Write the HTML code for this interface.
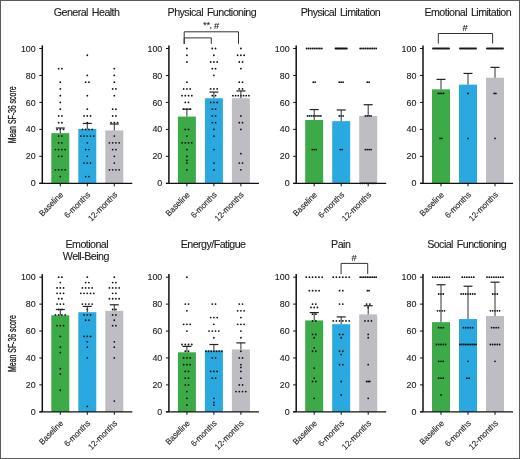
<!DOCTYPE html><html><head><meta charset="utf-8"><style>
html,body{margin:0;padding:0;background:#fff;}
body{width:520px;height:459px;overflow:hidden;}
svg{display:block;will-change:transform;}
text{font-family:"Liberation Sans", sans-serif;fill:#1e1e1e;stroke:#1e1e1e;stroke-width:0.12px;}
</style></head><body>
<svg width="520" height="459" viewBox="0 0 520 459">
<rect x="0" y="0" width="520" height="459" fill="#fff"/>
<text x="86.60" y="15.7" font-size="10.7" letter-spacing="-0.55" word-spacing="1.5" text-anchor="middle">General Health</text>
<rect x="51.30" y="133.15" width="18" height="50.15" fill="#3cab47"/>
<rect x="78.30" y="128.98" width="18" height="54.32" fill="#2aa9e0"/>
<rect x="105.30" y="130.46" width="18" height="52.84" fill="#bdbdc3"/>
<circle cx="58.67" cy="68.72" r="0.90" fill="#111"/>
<circle cx="61.92" cy="68.72" r="0.90" fill="#111"/>
<circle cx="60.30" cy="82.20" r="0.90" fill="#111"/>
<circle cx="60.30" cy="88.94" r="0.90" fill="#111"/>
<circle cx="60.30" cy="95.68" r="0.90" fill="#111"/>
<circle cx="60.30" cy="102.42" r="0.90" fill="#111"/>
<circle cx="60.30" cy="109.16" r="0.90" fill="#111"/>
<circle cx="58.67" cy="115.90" r="0.90" fill="#111"/>
<circle cx="61.92" cy="115.90" r="0.90" fill="#111"/>
<circle cx="58.67" cy="122.64" r="0.90" fill="#111"/>
<circle cx="61.92" cy="122.64" r="0.90" fill="#111"/>
<circle cx="57.05" cy="129.38" r="0.90" fill="#111"/>
<circle cx="60.30" cy="129.38" r="0.90" fill="#111"/>
<circle cx="63.55" cy="129.38" r="0.90" fill="#111"/>
<circle cx="58.67" cy="136.12" r="0.90" fill="#111"/>
<circle cx="61.92" cy="136.12" r="0.90" fill="#111"/>
<circle cx="58.67" cy="142.86" r="0.90" fill="#111"/>
<circle cx="61.92" cy="142.86" r="0.90" fill="#111"/>
<circle cx="55.42" cy="149.60" r="0.90" fill="#111"/>
<circle cx="58.67" cy="149.60" r="0.90" fill="#111"/>
<circle cx="61.92" cy="149.60" r="0.90" fill="#111"/>
<circle cx="65.17" cy="149.60" r="0.90" fill="#111"/>
<circle cx="58.67" cy="156.34" r="0.90" fill="#111"/>
<circle cx="61.92" cy="156.34" r="0.90" fill="#111"/>
<circle cx="55.42" cy="169.82" r="0.90" fill="#111"/>
<circle cx="58.67" cy="169.82" r="0.90" fill="#111"/>
<circle cx="61.92" cy="169.82" r="0.90" fill="#111"/>
<circle cx="65.17" cy="169.82" r="0.90" fill="#111"/>
<circle cx="60.30" cy="176.56" r="0.90" fill="#111"/>
<circle cx="87.30" cy="55.24" r="0.90" fill="#111"/>
<circle cx="87.30" cy="75.46" r="0.90" fill="#111"/>
<circle cx="85.67" cy="82.20" r="0.90" fill="#111"/>
<circle cx="88.92" cy="82.20" r="0.90" fill="#111"/>
<circle cx="87.30" cy="95.68" r="0.90" fill="#111"/>
<circle cx="87.30" cy="109.16" r="0.90" fill="#111"/>
<circle cx="84.05" cy="115.90" r="0.90" fill="#111"/>
<circle cx="87.30" cy="115.90" r="0.90" fill="#111"/>
<circle cx="90.55" cy="115.90" r="0.90" fill="#111"/>
<circle cx="87.30" cy="122.64" r="0.90" fill="#111"/>
<circle cx="82.42" cy="129.38" r="0.90" fill="#111"/>
<circle cx="85.67" cy="129.38" r="0.90" fill="#111"/>
<circle cx="88.92" cy="129.38" r="0.90" fill="#111"/>
<circle cx="92.17" cy="129.38" r="0.90" fill="#111"/>
<circle cx="80.80" cy="136.12" r="0.90" fill="#111"/>
<circle cx="84.05" cy="136.12" r="0.90" fill="#111"/>
<circle cx="87.30" cy="136.12" r="0.90" fill="#111"/>
<circle cx="90.55" cy="136.12" r="0.90" fill="#111"/>
<circle cx="93.80" cy="136.12" r="0.90" fill="#111"/>
<circle cx="87.30" cy="142.86" r="0.90" fill="#111"/>
<circle cx="85.67" cy="149.60" r="0.90" fill="#111"/>
<circle cx="88.92" cy="149.60" r="0.90" fill="#111"/>
<circle cx="87.30" cy="156.34" r="0.90" fill="#111"/>
<circle cx="84.05" cy="163.08" r="0.90" fill="#111"/>
<circle cx="87.30" cy="163.08" r="0.90" fill="#111"/>
<circle cx="90.55" cy="163.08" r="0.90" fill="#111"/>
<circle cx="85.67" cy="176.56" r="0.90" fill="#111"/>
<circle cx="88.92" cy="176.56" r="0.90" fill="#111"/>
<circle cx="114.30" cy="68.72" r="0.90" fill="#111"/>
<circle cx="114.30" cy="75.46" r="0.90" fill="#111"/>
<circle cx="114.30" cy="82.20" r="0.90" fill="#111"/>
<circle cx="112.67" cy="88.94" r="0.90" fill="#111"/>
<circle cx="115.92" cy="88.94" r="0.90" fill="#111"/>
<circle cx="114.30" cy="95.68" r="0.90" fill="#111"/>
<circle cx="112.67" cy="109.16" r="0.90" fill="#111"/>
<circle cx="115.92" cy="109.16" r="0.90" fill="#111"/>
<circle cx="112.67" cy="115.90" r="0.90" fill="#111"/>
<circle cx="115.92" cy="115.90" r="0.90" fill="#111"/>
<circle cx="111.05" cy="122.64" r="0.90" fill="#111"/>
<circle cx="114.30" cy="122.64" r="0.90" fill="#111"/>
<circle cx="117.55" cy="122.64" r="0.90" fill="#111"/>
<circle cx="114.30" cy="136.12" r="0.90" fill="#111"/>
<circle cx="109.42" cy="142.86" r="0.90" fill="#111"/>
<circle cx="112.67" cy="142.86" r="0.90" fill="#111"/>
<circle cx="115.92" cy="142.86" r="0.90" fill="#111"/>
<circle cx="119.17" cy="142.86" r="0.90" fill="#111"/>
<circle cx="112.67" cy="149.60" r="0.90" fill="#111"/>
<circle cx="115.92" cy="149.60" r="0.90" fill="#111"/>
<circle cx="114.30" cy="156.34" r="0.90" fill="#111"/>
<circle cx="114.30" cy="163.08" r="0.90" fill="#111"/>
<circle cx="109.42" cy="169.82" r="0.90" fill="#111"/>
<circle cx="112.67" cy="169.82" r="0.90" fill="#111"/>
<circle cx="115.92" cy="169.82" r="0.90" fill="#111"/>
<circle cx="119.17" cy="169.82" r="0.90" fill="#111"/>
<line x1="60.30" y1="133.15" x2="60.30" y2="128.03" stroke="#333" stroke-width="1"/>
<line x1="55.80" y1="128.03" x2="64.80" y2="128.03" stroke="#222" stroke-width="1.2"/>
<line x1="87.30" y1="128.98" x2="87.30" y2="123.45" stroke="#333" stroke-width="1"/>
<line x1="82.80" y1="123.45" x2="91.80" y2="123.45" stroke="#222" stroke-width="1.2"/>
<line x1="114.30" y1="130.46" x2="114.30" y2="123.99" stroke="#333" stroke-width="1"/>
<line x1="109.80" y1="123.99" x2="118.80" y2="123.99" stroke="#222" stroke-width="1.2"/>
<line x1="42.30" y1="45.40" x2="42.30" y2="183.30" stroke="#111" stroke-width="1.5"/>
<line x1="39.30" y1="183.30" x2="132.30" y2="183.30" stroke="#111" stroke-width="1.15"/>
<line x1="39.30" y1="183.30" x2="42.30" y2="183.30" stroke="#111" stroke-width="1"/>
<text transform="translate(35.70 186.40) scale(1.000 1)" font-size="8.90" text-anchor="end">0</text>
<line x1="39.30" y1="156.34" x2="42.30" y2="156.34" stroke="#111" stroke-width="1"/>
<text transform="translate(35.70 159.44) scale(1.000 1)" font-size="8.90" text-anchor="end">20</text>
<line x1="39.30" y1="129.38" x2="42.30" y2="129.38" stroke="#111" stroke-width="1"/>
<text transform="translate(35.70 132.48) scale(1.000 1)" font-size="8.90" text-anchor="end">40</text>
<line x1="39.30" y1="102.42" x2="42.30" y2="102.42" stroke="#111" stroke-width="1"/>
<text transform="translate(35.70 105.52) scale(1.000 1)" font-size="8.90" text-anchor="end">60</text>
<line x1="39.30" y1="75.46" x2="42.30" y2="75.46" stroke="#111" stroke-width="1"/>
<text transform="translate(35.70 78.56) scale(1.000 1)" font-size="8.90" text-anchor="end">80</text>
<line x1="39.30" y1="48.50" x2="42.30" y2="48.50" stroke="#111" stroke-width="1"/>
<text transform="translate(35.70 51.60) scale(1.000 1)" font-size="8.90" text-anchor="end">100</text>
<line x1="60.30" y1="183.30" x2="60.30" y2="186.30" stroke="#111" stroke-width="1"/>
<line x1="87.30" y1="183.30" x2="87.30" y2="186.30" stroke="#111" stroke-width="1"/>
<line x1="114.30" y1="183.30" x2="114.30" y2="186.30" stroke="#111" stroke-width="1"/>
<text transform="translate(63.80 195.30) rotate(-45) scale(0.940 1)" font-size="8.40" text-anchor="end">Baseline</text>
<text transform="translate(90.80 195.30) rotate(-45) scale(0.940 1)" font-size="8.40" text-anchor="end">6-months</text>
<text transform="translate(117.80 195.30) rotate(-45) scale(0.940 1)" font-size="8.40" text-anchor="end">12-months</text>
<text x="211.85" y="15.7" font-size="10.7" letter-spacing="-0.55" word-spacing="1.5" text-anchor="middle">Physical Functioning</text>
<rect x="177.90" y="116.57" width="18" height="66.73" fill="#3cab47"/>
<rect x="204.90" y="98.24" width="18" height="85.06" fill="#2aa9e0"/>
<rect x="231.90" y="98.24" width="18" height="85.06" fill="#bdbdc3"/>
<circle cx="186.90" cy="48.50" r="0.90" fill="#111"/>
<circle cx="186.90" cy="55.24" r="0.90" fill="#111"/>
<circle cx="186.90" cy="61.98" r="0.90" fill="#111"/>
<circle cx="186.90" cy="82.20" r="0.90" fill="#111"/>
<circle cx="183.65" cy="88.94" r="0.90" fill="#111"/>
<circle cx="186.90" cy="88.94" r="0.90" fill="#111"/>
<circle cx="190.15" cy="88.94" r="0.90" fill="#111"/>
<circle cx="182.03" cy="95.68" r="0.90" fill="#111"/>
<circle cx="185.28" cy="95.68" r="0.90" fill="#111"/>
<circle cx="188.53" cy="95.68" r="0.90" fill="#111"/>
<circle cx="191.78" cy="95.68" r="0.90" fill="#111"/>
<circle cx="185.28" cy="102.42" r="0.90" fill="#111"/>
<circle cx="188.53" cy="102.42" r="0.90" fill="#111"/>
<circle cx="183.65" cy="109.16" r="0.90" fill="#111"/>
<circle cx="186.90" cy="109.16" r="0.90" fill="#111"/>
<circle cx="190.15" cy="109.16" r="0.90" fill="#111"/>
<circle cx="185.28" cy="129.38" r="0.90" fill="#111"/>
<circle cx="188.53" cy="129.38" r="0.90" fill="#111"/>
<circle cx="186.90" cy="136.12" r="0.90" fill="#111"/>
<circle cx="182.03" cy="142.86" r="0.90" fill="#111"/>
<circle cx="185.28" cy="142.86" r="0.90" fill="#111"/>
<circle cx="188.53" cy="142.86" r="0.90" fill="#111"/>
<circle cx="191.78" cy="142.86" r="0.90" fill="#111"/>
<circle cx="186.90" cy="149.60" r="0.90" fill="#111"/>
<circle cx="186.90" cy="156.34" r="0.90" fill="#111"/>
<circle cx="186.90" cy="160.38" r="0.90" fill="#111"/>
<circle cx="186.90" cy="163.08" r="0.90" fill="#111"/>
<circle cx="186.90" cy="169.82" r="0.90" fill="#111"/>
<circle cx="212.28" cy="48.50" r="0.90" fill="#111"/>
<circle cx="215.53" cy="48.50" r="0.90" fill="#111"/>
<circle cx="213.90" cy="55.24" r="0.90" fill="#111"/>
<circle cx="210.65" cy="61.98" r="0.90" fill="#111"/>
<circle cx="213.90" cy="61.98" r="0.90" fill="#111"/>
<circle cx="217.15" cy="61.98" r="0.90" fill="#111"/>
<circle cx="212.28" cy="68.72" r="0.90" fill="#111"/>
<circle cx="215.53" cy="68.72" r="0.90" fill="#111"/>
<circle cx="213.90" cy="75.46" r="0.90" fill="#111"/>
<circle cx="210.65" cy="88.94" r="0.90" fill="#111"/>
<circle cx="213.90" cy="88.94" r="0.90" fill="#111"/>
<circle cx="217.15" cy="88.94" r="0.90" fill="#111"/>
<circle cx="212.28" cy="95.68" r="0.90" fill="#111"/>
<circle cx="215.53" cy="95.68" r="0.90" fill="#111"/>
<circle cx="210.65" cy="102.42" r="0.90" fill="#111"/>
<circle cx="213.90" cy="102.42" r="0.90" fill="#111"/>
<circle cx="217.15" cy="102.42" r="0.90" fill="#111"/>
<circle cx="212.28" cy="109.16" r="0.90" fill="#111"/>
<circle cx="215.53" cy="109.16" r="0.90" fill="#111"/>
<circle cx="212.28" cy="115.90" r="0.90" fill="#111"/>
<circle cx="215.53" cy="115.90" r="0.90" fill="#111"/>
<circle cx="212.28" cy="122.64" r="0.90" fill="#111"/>
<circle cx="215.53" cy="122.64" r="0.90" fill="#111"/>
<circle cx="213.90" cy="129.38" r="0.90" fill="#111"/>
<circle cx="213.90" cy="136.12" r="0.90" fill="#111"/>
<circle cx="213.90" cy="149.60" r="0.90" fill="#111"/>
<circle cx="213.90" cy="163.08" r="0.90" fill="#111"/>
<circle cx="213.90" cy="169.82" r="0.90" fill="#111"/>
<circle cx="240.90" cy="48.50" r="0.90" fill="#111"/>
<circle cx="237.65" cy="55.24" r="0.90" fill="#111"/>
<circle cx="240.90" cy="55.24" r="0.90" fill="#111"/>
<circle cx="244.15" cy="55.24" r="0.90" fill="#111"/>
<circle cx="239.28" cy="61.98" r="0.90" fill="#111"/>
<circle cx="242.53" cy="61.98" r="0.90" fill="#111"/>
<circle cx="240.90" cy="68.72" r="0.90" fill="#111"/>
<circle cx="239.28" cy="82.20" r="0.90" fill="#111"/>
<circle cx="242.53" cy="82.20" r="0.90" fill="#111"/>
<circle cx="239.28" cy="88.94" r="0.90" fill="#111"/>
<circle cx="242.53" cy="88.94" r="0.90" fill="#111"/>
<circle cx="232.90" cy="95.68" r="0.90" fill="#111"/>
<circle cx="235.57" cy="95.68" r="0.90" fill="#111"/>
<circle cx="238.23" cy="95.68" r="0.90" fill="#111"/>
<circle cx="240.90" cy="95.68" r="0.90" fill="#111"/>
<circle cx="243.57" cy="95.68" r="0.90" fill="#111"/>
<circle cx="246.23" cy="95.68" r="0.90" fill="#111"/>
<circle cx="248.90" cy="95.68" r="0.90" fill="#111"/>
<circle cx="240.90" cy="115.90" r="0.90" fill="#111"/>
<circle cx="239.28" cy="122.64" r="0.90" fill="#111"/>
<circle cx="242.53" cy="122.64" r="0.90" fill="#111"/>
<circle cx="240.90" cy="129.38" r="0.90" fill="#111"/>
<circle cx="240.90" cy="153.64" r="0.90" fill="#111"/>
<circle cx="239.28" cy="163.08" r="0.90" fill="#111"/>
<circle cx="242.53" cy="163.08" r="0.90" fill="#111"/>
<circle cx="240.90" cy="169.82" r="0.90" fill="#111"/>
<line x1="186.90" y1="116.57" x2="186.90" y2="109.16" stroke="#333" stroke-width="1"/>
<line x1="182.40" y1="109.16" x2="191.40" y2="109.16" stroke="#222" stroke-width="1.2"/>
<line x1="213.90" y1="98.24" x2="213.90" y2="92.04" stroke="#333" stroke-width="1"/>
<line x1="209.40" y1="92.04" x2="218.40" y2="92.04" stroke="#222" stroke-width="1.2"/>
<line x1="240.90" y1="98.24" x2="240.90" y2="90.96" stroke="#333" stroke-width="1"/>
<line x1="236.40" y1="90.96" x2="245.40" y2="90.96" stroke="#222" stroke-width="1.2"/>
<line x1="168.90" y1="45.40" x2="168.90" y2="183.30" stroke="#111" stroke-width="1.5"/>
<line x1="165.90" y1="183.30" x2="258.90" y2="183.30" stroke="#111" stroke-width="1.15"/>
<line x1="165.90" y1="183.30" x2="168.90" y2="183.30" stroke="#111" stroke-width="1"/>
<text transform="translate(162.30 186.40) scale(1.000 1)" font-size="8.90" text-anchor="end">0</text>
<line x1="165.90" y1="156.34" x2="168.90" y2="156.34" stroke="#111" stroke-width="1"/>
<text transform="translate(162.30 159.44) scale(1.000 1)" font-size="8.90" text-anchor="end">20</text>
<line x1="165.90" y1="129.38" x2="168.90" y2="129.38" stroke="#111" stroke-width="1"/>
<text transform="translate(162.30 132.48) scale(1.000 1)" font-size="8.90" text-anchor="end">40</text>
<line x1="165.90" y1="102.42" x2="168.90" y2="102.42" stroke="#111" stroke-width="1"/>
<text transform="translate(162.30 105.52) scale(1.000 1)" font-size="8.90" text-anchor="end">60</text>
<line x1="165.90" y1="75.46" x2="168.90" y2="75.46" stroke="#111" stroke-width="1"/>
<text transform="translate(162.30 78.56) scale(1.000 1)" font-size="8.90" text-anchor="end">80</text>
<line x1="165.90" y1="48.50" x2="168.90" y2="48.50" stroke="#111" stroke-width="1"/>
<text transform="translate(162.30 51.60) scale(1.000 1)" font-size="8.90" text-anchor="end">100</text>
<line x1="186.90" y1="183.30" x2="186.90" y2="186.30" stroke="#111" stroke-width="1"/>
<line x1="213.90" y1="183.30" x2="213.90" y2="186.30" stroke="#111" stroke-width="1"/>
<line x1="240.90" y1="183.30" x2="240.90" y2="186.30" stroke="#111" stroke-width="1"/>
<text transform="translate(190.40 195.30) rotate(-45) scale(0.940 1)" font-size="8.40" text-anchor="end">Baseline</text>
<text transform="translate(217.40 195.30) rotate(-45) scale(0.940 1)" font-size="8.40" text-anchor="end">6-months</text>
<text transform="translate(244.40 195.30) rotate(-45) scale(0.940 1)" font-size="8.40" text-anchor="end">12-months</text>
<text x="340.45" y="15.7" font-size="10.7" letter-spacing="-0.55" word-spacing="1.5" text-anchor="middle">Physical Limitation</text>
<rect x="305.20" y="119.94" width="18" height="63.36" fill="#3cab47"/>
<rect x="332.20" y="121.16" width="18" height="62.14" fill="#2aa9e0"/>
<rect x="359.20" y="115.90" width="18" height="67.40" fill="#bdbdc3"/>
<circle cx="306.60" cy="48.50" r="0.90" fill="#111"/>
<circle cx="308.50" cy="48.50" r="0.90" fill="#111"/>
<circle cx="310.40" cy="48.50" r="0.90" fill="#111"/>
<circle cx="312.30" cy="48.50" r="0.90" fill="#111"/>
<circle cx="314.20" cy="48.50" r="0.90" fill="#111"/>
<circle cx="316.10" cy="48.50" r="0.90" fill="#111"/>
<circle cx="318.00" cy="48.50" r="0.90" fill="#111"/>
<circle cx="319.90" cy="48.50" r="0.90" fill="#111"/>
<circle cx="321.80" cy="48.50" r="0.90" fill="#111"/>
<circle cx="313.25" cy="82.20" r="0.90" fill="#111"/>
<circle cx="315.15" cy="82.20" r="0.90" fill="#111"/>
<circle cx="307.55" cy="115.90" r="0.90" fill="#111"/>
<circle cx="309.45" cy="115.90" r="0.90" fill="#111"/>
<circle cx="311.35" cy="115.90" r="0.90" fill="#111"/>
<circle cx="313.25" cy="115.90" r="0.90" fill="#111"/>
<circle cx="315.15" cy="115.90" r="0.90" fill="#111"/>
<circle cx="317.05" cy="115.90" r="0.90" fill="#111"/>
<circle cx="318.95" cy="115.90" r="0.90" fill="#111"/>
<circle cx="320.85" cy="115.90" r="0.90" fill="#111"/>
<circle cx="312.30" cy="149.60" r="0.90" fill="#111"/>
<circle cx="314.20" cy="149.60" r="0.90" fill="#111"/>
<circle cx="316.10" cy="149.60" r="0.90" fill="#111"/>
<circle cx="335.50" cy="48.50" r="0.90" fill="#111"/>
<circle cx="336.45" cy="48.50" r="0.90" fill="#111"/>
<circle cx="337.40" cy="48.50" r="0.90" fill="#111"/>
<circle cx="338.35" cy="48.50" r="0.90" fill="#111"/>
<circle cx="339.30" cy="48.50" r="0.90" fill="#111"/>
<circle cx="340.25" cy="48.50" r="0.90" fill="#111"/>
<circle cx="341.20" cy="48.50" r="0.90" fill="#111"/>
<circle cx="342.15" cy="48.50" r="0.90" fill="#111"/>
<circle cx="343.10" cy="48.50" r="0.90" fill="#111"/>
<circle cx="344.05" cy="48.50" r="0.90" fill="#111"/>
<circle cx="345.00" cy="48.50" r="0.90" fill="#111"/>
<circle cx="345.95" cy="48.50" r="0.90" fill="#111"/>
<circle cx="346.90" cy="48.50" r="0.90" fill="#111"/>
<circle cx="339.30" cy="82.20" r="0.90" fill="#111"/>
<circle cx="341.20" cy="82.20" r="0.90" fill="#111"/>
<circle cx="343.10" cy="82.20" r="0.90" fill="#111"/>
<circle cx="339.30" cy="115.90" r="0.90" fill="#111"/>
<circle cx="341.20" cy="115.90" r="0.90" fill="#111"/>
<circle cx="343.10" cy="115.90" r="0.90" fill="#111"/>
<circle cx="340.25" cy="149.60" r="0.90" fill="#111"/>
<circle cx="342.15" cy="149.60" r="0.90" fill="#111"/>
<circle cx="360.20" cy="48.50" r="0.90" fill="#111"/>
<circle cx="361.98" cy="48.50" r="0.90" fill="#111"/>
<circle cx="363.76" cy="48.50" r="0.90" fill="#111"/>
<circle cx="365.53" cy="48.50" r="0.90" fill="#111"/>
<circle cx="367.31" cy="48.50" r="0.90" fill="#111"/>
<circle cx="369.09" cy="48.50" r="0.90" fill="#111"/>
<circle cx="370.87" cy="48.50" r="0.90" fill="#111"/>
<circle cx="372.64" cy="48.50" r="0.90" fill="#111"/>
<circle cx="374.42" cy="48.50" r="0.90" fill="#111"/>
<circle cx="376.20" cy="48.50" r="0.90" fill="#111"/>
<circle cx="367.25" cy="82.20" r="0.90" fill="#111"/>
<circle cx="369.15" cy="82.20" r="0.90" fill="#111"/>
<circle cx="365.35" cy="115.90" r="0.90" fill="#111"/>
<circle cx="367.25" cy="115.90" r="0.90" fill="#111"/>
<circle cx="369.15" cy="115.90" r="0.90" fill="#111"/>
<circle cx="371.05" cy="115.90" r="0.90" fill="#111"/>
<circle cx="365.35" cy="149.60" r="0.90" fill="#111"/>
<circle cx="367.25" cy="149.60" r="0.90" fill="#111"/>
<circle cx="369.15" cy="149.60" r="0.90" fill="#111"/>
<circle cx="371.05" cy="149.60" r="0.90" fill="#111"/>
<circle cx="360.60" cy="183.30" r="0.90" fill="#111"/>
<circle cx="362.50" cy="183.30" r="0.90" fill="#111"/>
<circle cx="364.40" cy="183.30" r="0.90" fill="#111"/>
<circle cx="366.30" cy="183.30" r="0.90" fill="#111"/>
<circle cx="368.20" cy="183.30" r="0.90" fill="#111"/>
<circle cx="370.10" cy="183.30" r="0.90" fill="#111"/>
<circle cx="372.00" cy="183.30" r="0.90" fill="#111"/>
<circle cx="373.90" cy="183.30" r="0.90" fill="#111"/>
<circle cx="375.80" cy="183.30" r="0.90" fill="#111"/>
<line x1="314.20" y1="119.94" x2="314.20" y2="109.56" stroke="#333" stroke-width="1"/>
<line x1="309.70" y1="109.56" x2="318.70" y2="109.56" stroke="#222" stroke-width="1.2"/>
<line x1="341.20" y1="121.16" x2="341.20" y2="109.97" stroke="#333" stroke-width="1"/>
<line x1="336.70" y1="109.97" x2="345.70" y2="109.97" stroke="#222" stroke-width="1.2"/>
<line x1="368.20" y1="115.90" x2="368.20" y2="104.71" stroke="#333" stroke-width="1"/>
<line x1="363.70" y1="104.71" x2="372.70" y2="104.71" stroke="#222" stroke-width="1.2"/>
<line x1="296.20" y1="45.40" x2="296.20" y2="183.30" stroke="#111" stroke-width="1.5"/>
<line x1="293.20" y1="183.30" x2="386.20" y2="183.30" stroke="#111" stroke-width="1.15"/>
<line x1="293.20" y1="183.30" x2="296.20" y2="183.30" stroke="#111" stroke-width="1"/>
<text transform="translate(289.60 186.40) scale(1.000 1)" font-size="8.90" text-anchor="end">0</text>
<line x1="293.20" y1="156.34" x2="296.20" y2="156.34" stroke="#111" stroke-width="1"/>
<text transform="translate(289.60 159.44) scale(1.000 1)" font-size="8.90" text-anchor="end">20</text>
<line x1="293.20" y1="129.38" x2="296.20" y2="129.38" stroke="#111" stroke-width="1"/>
<text transform="translate(289.60 132.48) scale(1.000 1)" font-size="8.90" text-anchor="end">40</text>
<line x1="293.20" y1="102.42" x2="296.20" y2="102.42" stroke="#111" stroke-width="1"/>
<text transform="translate(289.60 105.52) scale(1.000 1)" font-size="8.90" text-anchor="end">60</text>
<line x1="293.20" y1="75.46" x2="296.20" y2="75.46" stroke="#111" stroke-width="1"/>
<text transform="translate(289.60 78.56) scale(1.000 1)" font-size="8.90" text-anchor="end">80</text>
<line x1="293.20" y1="48.50" x2="296.20" y2="48.50" stroke="#111" stroke-width="1"/>
<text transform="translate(289.60 51.60) scale(1.000 1)" font-size="8.90" text-anchor="end">100</text>
<line x1="314.20" y1="183.30" x2="314.20" y2="186.30" stroke="#111" stroke-width="1"/>
<line x1="341.20" y1="183.30" x2="341.20" y2="186.30" stroke="#111" stroke-width="1"/>
<line x1="368.20" y1="183.30" x2="368.20" y2="186.30" stroke="#111" stroke-width="1"/>
<text transform="translate(317.70 195.30) rotate(-45) scale(0.940 1)" font-size="8.40" text-anchor="end">Baseline</text>
<text transform="translate(344.70 195.30) rotate(-45) scale(0.940 1)" font-size="8.40" text-anchor="end">6-months</text>
<text transform="translate(371.70 195.30) rotate(-45) scale(0.940 1)" font-size="8.40" text-anchor="end">12-months</text>
<text x="467.80" y="15.7" font-size="10.7" letter-spacing="-0.55" word-spacing="1.5" text-anchor="middle">Emotional Limitation</text>
<rect x="432.00" y="89.34" width="18" height="93.96" fill="#3cab47"/>
<rect x="459.00" y="84.63" width="18" height="98.67" fill="#2aa9e0"/>
<rect x="486.00" y="77.75" width="18" height="105.55" fill="#bdbdc3"/>
<circle cx="433.00" cy="48.50" r="0.90" fill="#111"/>
<circle cx="434.00" cy="48.50" r="0.90" fill="#111"/>
<circle cx="435.00" cy="48.50" r="0.90" fill="#111"/>
<circle cx="436.00" cy="48.50" r="0.90" fill="#111"/>
<circle cx="437.00" cy="48.50" r="0.90" fill="#111"/>
<circle cx="438.00" cy="48.50" r="0.90" fill="#111"/>
<circle cx="439.00" cy="48.50" r="0.90" fill="#111"/>
<circle cx="440.00" cy="48.50" r="0.90" fill="#111"/>
<circle cx="441.00" cy="48.50" r="0.90" fill="#111"/>
<circle cx="442.00" cy="48.50" r="0.90" fill="#111"/>
<circle cx="443.00" cy="48.50" r="0.90" fill="#111"/>
<circle cx="444.00" cy="48.50" r="0.90" fill="#111"/>
<circle cx="445.00" cy="48.50" r="0.90" fill="#111"/>
<circle cx="446.00" cy="48.50" r="0.90" fill="#111"/>
<circle cx="447.00" cy="48.50" r="0.90" fill="#111"/>
<circle cx="448.00" cy="48.50" r="0.90" fill="#111"/>
<circle cx="449.00" cy="48.50" r="0.90" fill="#111"/>
<circle cx="438.30" cy="93.39" r="0.90" fill="#111"/>
<circle cx="440.10" cy="93.39" r="0.90" fill="#111"/>
<circle cx="441.90" cy="93.39" r="0.90" fill="#111"/>
<circle cx="443.70" cy="93.39" r="0.90" fill="#111"/>
<circle cx="440.10" cy="138.41" r="0.90" fill="#111"/>
<circle cx="441.90" cy="138.41" r="0.90" fill="#111"/>
<circle cx="460.00" cy="48.50" r="0.90" fill="#111"/>
<circle cx="461.00" cy="48.50" r="0.90" fill="#111"/>
<circle cx="462.00" cy="48.50" r="0.90" fill="#111"/>
<circle cx="463.00" cy="48.50" r="0.90" fill="#111"/>
<circle cx="464.00" cy="48.50" r="0.90" fill="#111"/>
<circle cx="465.00" cy="48.50" r="0.90" fill="#111"/>
<circle cx="466.00" cy="48.50" r="0.90" fill="#111"/>
<circle cx="467.00" cy="48.50" r="0.90" fill="#111"/>
<circle cx="468.00" cy="48.50" r="0.90" fill="#111"/>
<circle cx="469.00" cy="48.50" r="0.90" fill="#111"/>
<circle cx="470.00" cy="48.50" r="0.90" fill="#111"/>
<circle cx="471.00" cy="48.50" r="0.90" fill="#111"/>
<circle cx="472.00" cy="48.50" r="0.90" fill="#111"/>
<circle cx="473.00" cy="48.50" r="0.90" fill="#111"/>
<circle cx="474.00" cy="48.50" r="0.90" fill="#111"/>
<circle cx="475.00" cy="48.50" r="0.90" fill="#111"/>
<circle cx="476.00" cy="48.50" r="0.90" fill="#111"/>
<circle cx="468.00" cy="93.39" r="0.90" fill="#111"/>
<circle cx="468.00" cy="138.41" r="0.90" fill="#111"/>
<circle cx="487.00" cy="48.50" r="0.90" fill="#111"/>
<circle cx="488.00" cy="48.50" r="0.90" fill="#111"/>
<circle cx="489.00" cy="48.50" r="0.90" fill="#111"/>
<circle cx="490.00" cy="48.50" r="0.90" fill="#111"/>
<circle cx="491.00" cy="48.50" r="0.90" fill="#111"/>
<circle cx="492.00" cy="48.50" r="0.90" fill="#111"/>
<circle cx="493.00" cy="48.50" r="0.90" fill="#111"/>
<circle cx="494.00" cy="48.50" r="0.90" fill="#111"/>
<circle cx="495.00" cy="48.50" r="0.90" fill="#111"/>
<circle cx="496.00" cy="48.50" r="0.90" fill="#111"/>
<circle cx="497.00" cy="48.50" r="0.90" fill="#111"/>
<circle cx="498.00" cy="48.50" r="0.90" fill="#111"/>
<circle cx="499.00" cy="48.50" r="0.90" fill="#111"/>
<circle cx="500.00" cy="48.50" r="0.90" fill="#111"/>
<circle cx="501.00" cy="48.50" r="0.90" fill="#111"/>
<circle cx="502.00" cy="48.50" r="0.90" fill="#111"/>
<circle cx="503.00" cy="48.50" r="0.90" fill="#111"/>
<circle cx="494.10" cy="93.39" r="0.90" fill="#111"/>
<circle cx="495.90" cy="93.39" r="0.90" fill="#111"/>
<circle cx="495.00" cy="138.41" r="0.90" fill="#111"/>
<line x1="441.00" y1="89.34" x2="441.00" y2="79.37" stroke="#333" stroke-width="1"/>
<line x1="436.50" y1="79.37" x2="445.50" y2="79.37" stroke="#222" stroke-width="1.2"/>
<line x1="468.00" y1="84.63" x2="468.00" y2="73.44" stroke="#333" stroke-width="1"/>
<line x1="463.50" y1="73.44" x2="472.50" y2="73.44" stroke="#222" stroke-width="1.2"/>
<line x1="495.00" y1="77.75" x2="495.00" y2="67.37" stroke="#333" stroke-width="1"/>
<line x1="490.50" y1="67.37" x2="499.50" y2="67.37" stroke="#222" stroke-width="1.2"/>
<line x1="423.00" y1="45.40" x2="423.00" y2="183.30" stroke="#111" stroke-width="1.5"/>
<line x1="420.00" y1="183.30" x2="513.00" y2="183.30" stroke="#111" stroke-width="1.15"/>
<line x1="420.00" y1="183.30" x2="423.00" y2="183.30" stroke="#111" stroke-width="1"/>
<text transform="translate(416.40 186.40) scale(1.000 1)" font-size="8.90" text-anchor="end">0</text>
<line x1="420.00" y1="156.34" x2="423.00" y2="156.34" stroke="#111" stroke-width="1"/>
<text transform="translate(416.40 159.44) scale(1.000 1)" font-size="8.90" text-anchor="end">20</text>
<line x1="420.00" y1="129.38" x2="423.00" y2="129.38" stroke="#111" stroke-width="1"/>
<text transform="translate(416.40 132.48) scale(1.000 1)" font-size="8.90" text-anchor="end">40</text>
<line x1="420.00" y1="102.42" x2="423.00" y2="102.42" stroke="#111" stroke-width="1"/>
<text transform="translate(416.40 105.52) scale(1.000 1)" font-size="8.90" text-anchor="end">60</text>
<line x1="420.00" y1="75.46" x2="423.00" y2="75.46" stroke="#111" stroke-width="1"/>
<text transform="translate(416.40 78.56) scale(1.000 1)" font-size="8.90" text-anchor="end">80</text>
<line x1="420.00" y1="48.50" x2="423.00" y2="48.50" stroke="#111" stroke-width="1"/>
<text transform="translate(416.40 51.60) scale(1.000 1)" font-size="8.90" text-anchor="end">100</text>
<line x1="441.00" y1="183.30" x2="441.00" y2="186.30" stroke="#111" stroke-width="1"/>
<line x1="468.00" y1="183.30" x2="468.00" y2="186.30" stroke="#111" stroke-width="1"/>
<line x1="495.00" y1="183.30" x2="495.00" y2="186.30" stroke="#111" stroke-width="1"/>
<text transform="translate(444.50 195.30) rotate(-45) scale(0.940 1)" font-size="8.40" text-anchor="end">Baseline</text>
<text transform="translate(471.50 195.30) rotate(-45) scale(0.940 1)" font-size="8.40" text-anchor="end">6-months</text>
<text transform="translate(498.50 195.30) rotate(-45) scale(0.940 1)" font-size="8.40" text-anchor="end">12-months</text>
<text x="86.80" y="248.1" font-size="10.7" letter-spacing="-0.55" word-spacing="1.5" text-anchor="middle">Emotional</text>
<text x="85.80" y="260.4" font-size="10.7" letter-spacing="-0.55" word-spacing="1.5" text-anchor="middle">Well-Being</text>
<rect x="51.30" y="315.29" width="18" height="96.51" fill="#3cab47"/>
<rect x="78.30" y="312.20" width="18" height="99.60" fill="#2aa9e0"/>
<rect x="105.30" y="310.85" width="18" height="100.95" fill="#bdbdc3"/>
<circle cx="58.67" cy="277.20" r="0.90" fill="#111"/>
<circle cx="61.92" cy="277.20" r="0.90" fill="#111"/>
<circle cx="60.30" cy="282.58" r="0.90" fill="#111"/>
<circle cx="57.05" cy="287.97" r="0.90" fill="#111"/>
<circle cx="60.30" cy="287.97" r="0.90" fill="#111"/>
<circle cx="63.55" cy="287.97" r="0.90" fill="#111"/>
<circle cx="57.05" cy="293.35" r="0.90" fill="#111"/>
<circle cx="60.30" cy="293.35" r="0.90" fill="#111"/>
<circle cx="63.55" cy="293.35" r="0.90" fill="#111"/>
<circle cx="58.67" cy="298.74" r="0.90" fill="#111"/>
<circle cx="61.92" cy="298.74" r="0.90" fill="#111"/>
<circle cx="57.05" cy="304.12" r="0.90" fill="#111"/>
<circle cx="60.30" cy="304.12" r="0.90" fill="#111"/>
<circle cx="63.55" cy="304.12" r="0.90" fill="#111"/>
<circle cx="58.67" cy="309.50" r="0.90" fill="#111"/>
<circle cx="61.92" cy="309.50" r="0.90" fill="#111"/>
<circle cx="55.42" cy="314.89" r="0.90" fill="#111"/>
<circle cx="58.67" cy="314.89" r="0.90" fill="#111"/>
<circle cx="61.92" cy="314.89" r="0.90" fill="#111"/>
<circle cx="65.17" cy="314.89" r="0.90" fill="#111"/>
<circle cx="57.05" cy="325.66" r="0.90" fill="#111"/>
<circle cx="60.30" cy="325.66" r="0.90" fill="#111"/>
<circle cx="63.55" cy="325.66" r="0.90" fill="#111"/>
<circle cx="60.30" cy="336.42" r="0.90" fill="#111"/>
<circle cx="60.30" cy="347.19" r="0.90" fill="#111"/>
<circle cx="60.30" cy="352.58" r="0.90" fill="#111"/>
<circle cx="60.30" cy="368.73" r="0.90" fill="#111"/>
<circle cx="60.30" cy="374.11" r="0.90" fill="#111"/>
<circle cx="60.30" cy="390.26" r="0.90" fill="#111"/>
<circle cx="87.30" cy="277.20" r="0.90" fill="#111"/>
<circle cx="85.67" cy="282.58" r="0.90" fill="#111"/>
<circle cx="88.92" cy="282.58" r="0.90" fill="#111"/>
<circle cx="82.42" cy="287.97" r="0.90" fill="#111"/>
<circle cx="85.67" cy="287.97" r="0.90" fill="#111"/>
<circle cx="88.92" cy="287.97" r="0.90" fill="#111"/>
<circle cx="92.17" cy="287.97" r="0.90" fill="#111"/>
<circle cx="80.80" cy="293.35" r="0.90" fill="#111"/>
<circle cx="84.05" cy="293.35" r="0.90" fill="#111"/>
<circle cx="87.30" cy="293.35" r="0.90" fill="#111"/>
<circle cx="90.55" cy="293.35" r="0.90" fill="#111"/>
<circle cx="93.80" cy="293.35" r="0.90" fill="#111"/>
<circle cx="82.42" cy="304.12" r="0.90" fill="#111"/>
<circle cx="85.67" cy="304.12" r="0.90" fill="#111"/>
<circle cx="88.92" cy="304.12" r="0.90" fill="#111"/>
<circle cx="92.17" cy="304.12" r="0.90" fill="#111"/>
<circle cx="87.30" cy="309.50" r="0.90" fill="#111"/>
<circle cx="84.05" cy="314.89" r="0.90" fill="#111"/>
<circle cx="87.30" cy="314.89" r="0.90" fill="#111"/>
<circle cx="90.55" cy="314.89" r="0.90" fill="#111"/>
<circle cx="85.67" cy="320.27" r="0.90" fill="#111"/>
<circle cx="88.92" cy="320.27" r="0.90" fill="#111"/>
<circle cx="84.05" cy="336.42" r="0.90" fill="#111"/>
<circle cx="87.30" cy="336.42" r="0.90" fill="#111"/>
<circle cx="90.55" cy="336.42" r="0.90" fill="#111"/>
<circle cx="87.30" cy="341.81" r="0.90" fill="#111"/>
<circle cx="87.30" cy="347.19" r="0.90" fill="#111"/>
<circle cx="87.30" cy="357.96" r="0.90" fill="#111"/>
<circle cx="87.30" cy="406.42" r="0.90" fill="#111"/>
<circle cx="114.30" cy="277.20" r="0.90" fill="#111"/>
<circle cx="112.67" cy="282.58" r="0.90" fill="#111"/>
<circle cx="115.92" cy="282.58" r="0.90" fill="#111"/>
<circle cx="109.42" cy="287.97" r="0.90" fill="#111"/>
<circle cx="112.67" cy="287.97" r="0.90" fill="#111"/>
<circle cx="115.92" cy="287.97" r="0.90" fill="#111"/>
<circle cx="119.17" cy="287.97" r="0.90" fill="#111"/>
<circle cx="112.67" cy="293.35" r="0.90" fill="#111"/>
<circle cx="115.92" cy="293.35" r="0.90" fill="#111"/>
<circle cx="109.42" cy="298.74" r="0.90" fill="#111"/>
<circle cx="112.67" cy="298.74" r="0.90" fill="#111"/>
<circle cx="115.92" cy="298.74" r="0.90" fill="#111"/>
<circle cx="119.17" cy="298.74" r="0.90" fill="#111"/>
<circle cx="112.67" cy="309.50" r="0.90" fill="#111"/>
<circle cx="115.92" cy="309.50" r="0.90" fill="#111"/>
<circle cx="112.67" cy="314.89" r="0.90" fill="#111"/>
<circle cx="115.92" cy="314.89" r="0.90" fill="#111"/>
<circle cx="114.30" cy="320.27" r="0.90" fill="#111"/>
<circle cx="112.67" cy="325.66" r="0.90" fill="#111"/>
<circle cx="115.92" cy="325.66" r="0.90" fill="#111"/>
<circle cx="114.30" cy="341.81" r="0.90" fill="#111"/>
<circle cx="114.30" cy="347.19" r="0.90" fill="#111"/>
<circle cx="114.30" cy="357.96" r="0.90" fill="#111"/>
<circle cx="114.30" cy="401.03" r="0.90" fill="#111"/>
<line x1="60.30" y1="315.29" x2="60.30" y2="309.50" stroke="#333" stroke-width="1"/>
<line x1="55.80" y1="309.50" x2="64.80" y2="309.50" stroke="#222" stroke-width="1.2"/>
<line x1="87.30" y1="312.20" x2="87.30" y2="306.41" stroke="#333" stroke-width="1"/>
<line x1="82.80" y1="306.41" x2="91.80" y2="306.41" stroke="#222" stroke-width="1.2"/>
<line x1="114.30" y1="310.85" x2="114.30" y2="304.79" stroke="#333" stroke-width="1"/>
<line x1="109.80" y1="304.79" x2="118.80" y2="304.79" stroke="#222" stroke-width="1.2"/>
<line x1="42.30" y1="274.10" x2="42.30" y2="411.80" stroke="#111" stroke-width="1.5"/>
<line x1="39.30" y1="411.80" x2="132.30" y2="411.80" stroke="#111" stroke-width="1.15"/>
<line x1="39.30" y1="411.80" x2="42.30" y2="411.80" stroke="#111" stroke-width="1"/>
<text transform="translate(35.70 414.90) scale(1.000 1)" font-size="8.90" text-anchor="end">0</text>
<line x1="39.30" y1="384.88" x2="42.30" y2="384.88" stroke="#111" stroke-width="1"/>
<text transform="translate(35.70 387.98) scale(1.000 1)" font-size="8.90" text-anchor="end">20</text>
<line x1="39.30" y1="357.96" x2="42.30" y2="357.96" stroke="#111" stroke-width="1"/>
<text transform="translate(35.70 361.06) scale(1.000 1)" font-size="8.90" text-anchor="end">40</text>
<line x1="39.30" y1="331.04" x2="42.30" y2="331.04" stroke="#111" stroke-width="1"/>
<text transform="translate(35.70 334.14) scale(1.000 1)" font-size="8.90" text-anchor="end">60</text>
<line x1="39.30" y1="304.12" x2="42.30" y2="304.12" stroke="#111" stroke-width="1"/>
<text transform="translate(35.70 307.22) scale(1.000 1)" font-size="8.90" text-anchor="end">80</text>
<line x1="39.30" y1="277.20" x2="42.30" y2="277.20" stroke="#111" stroke-width="1"/>
<text transform="translate(35.70 280.30) scale(1.000 1)" font-size="8.90" text-anchor="end">100</text>
<line x1="60.30" y1="411.80" x2="60.30" y2="414.80" stroke="#111" stroke-width="1"/>
<line x1="87.30" y1="411.80" x2="87.30" y2="414.80" stroke="#111" stroke-width="1"/>
<line x1="114.30" y1="411.80" x2="114.30" y2="414.80" stroke="#111" stroke-width="1"/>
<text transform="translate(63.80 423.80) rotate(-45) scale(0.940 1)" font-size="8.40" text-anchor="end">Baseline</text>
<text transform="translate(90.80 423.80) rotate(-45) scale(0.940 1)" font-size="8.40" text-anchor="end">6-months</text>
<text transform="translate(117.80 423.80) rotate(-45) scale(0.940 1)" font-size="8.40" text-anchor="end">12-months</text>
<text x="213.10" y="248.1" font-size="10.7" letter-spacing="-0.55" word-spacing="1.5" text-anchor="middle">Energy/Fatigue</text>
<rect x="177.90" y="352.31" width="18" height="59.49" fill="#3cab47"/>
<rect x="204.90" y="350.56" width="18" height="61.24" fill="#2aa9e0"/>
<rect x="231.90" y="349.48" width="18" height="62.32" fill="#bdbdc3"/>
<circle cx="186.90" cy="277.20" r="0.90" fill="#111"/>
<circle cx="185.28" cy="304.12" r="0.90" fill="#111"/>
<circle cx="188.53" cy="304.12" r="0.90" fill="#111"/>
<circle cx="186.90" cy="310.85" r="0.90" fill="#111"/>
<circle cx="183.65" cy="324.31" r="0.90" fill="#111"/>
<circle cx="186.90" cy="324.31" r="0.90" fill="#111"/>
<circle cx="190.15" cy="324.31" r="0.90" fill="#111"/>
<circle cx="186.90" cy="331.04" r="0.90" fill="#111"/>
<circle cx="182.03" cy="344.50" r="0.90" fill="#111"/>
<circle cx="185.28" cy="344.50" r="0.90" fill="#111"/>
<circle cx="188.53" cy="344.50" r="0.90" fill="#111"/>
<circle cx="191.78" cy="344.50" r="0.90" fill="#111"/>
<circle cx="185.28" cy="351.23" r="0.90" fill="#111"/>
<circle cx="188.53" cy="351.23" r="0.90" fill="#111"/>
<circle cx="183.65" cy="357.96" r="0.90" fill="#111"/>
<circle cx="186.90" cy="357.96" r="0.90" fill="#111"/>
<circle cx="190.15" cy="357.96" r="0.90" fill="#111"/>
<circle cx="183.65" cy="364.69" r="0.90" fill="#111"/>
<circle cx="186.90" cy="364.69" r="0.90" fill="#111"/>
<circle cx="190.15" cy="364.69" r="0.90" fill="#111"/>
<circle cx="185.28" cy="371.42" r="0.90" fill="#111"/>
<circle cx="188.53" cy="371.42" r="0.90" fill="#111"/>
<circle cx="185.28" cy="378.15" r="0.90" fill="#111"/>
<circle cx="188.53" cy="378.15" r="0.90" fill="#111"/>
<circle cx="185.28" cy="384.88" r="0.90" fill="#111"/>
<circle cx="188.53" cy="384.88" r="0.90" fill="#111"/>
<circle cx="186.90" cy="391.61" r="0.90" fill="#111"/>
<circle cx="186.90" cy="398.34" r="0.90" fill="#111"/>
<circle cx="186.90" cy="405.07" r="0.90" fill="#111"/>
<circle cx="212.28" cy="304.12" r="0.90" fill="#111"/>
<circle cx="215.53" cy="304.12" r="0.90" fill="#111"/>
<circle cx="210.65" cy="317.58" r="0.90" fill="#111"/>
<circle cx="213.90" cy="317.58" r="0.90" fill="#111"/>
<circle cx="217.15" cy="317.58" r="0.90" fill="#111"/>
<circle cx="213.90" cy="324.31" r="0.90" fill="#111"/>
<circle cx="209.03" cy="331.04" r="0.90" fill="#111"/>
<circle cx="212.28" cy="331.04" r="0.90" fill="#111"/>
<circle cx="215.53" cy="331.04" r="0.90" fill="#111"/>
<circle cx="218.78" cy="331.04" r="0.90" fill="#111"/>
<circle cx="213.90" cy="337.77" r="0.90" fill="#111"/>
<circle cx="205.90" cy="351.23" r="0.90" fill="#111"/>
<circle cx="208.57" cy="351.23" r="0.90" fill="#111"/>
<circle cx="211.23" cy="351.23" r="0.90" fill="#111"/>
<circle cx="213.90" cy="351.23" r="0.90" fill="#111"/>
<circle cx="216.57" cy="351.23" r="0.90" fill="#111"/>
<circle cx="219.23" cy="351.23" r="0.90" fill="#111"/>
<circle cx="221.90" cy="351.23" r="0.90" fill="#111"/>
<circle cx="212.28" cy="357.96" r="0.90" fill="#111"/>
<circle cx="215.53" cy="357.96" r="0.90" fill="#111"/>
<circle cx="210.65" cy="371.42" r="0.90" fill="#111"/>
<circle cx="213.90" cy="371.42" r="0.90" fill="#111"/>
<circle cx="217.15" cy="371.42" r="0.90" fill="#111"/>
<circle cx="212.28" cy="378.15" r="0.90" fill="#111"/>
<circle cx="215.53" cy="378.15" r="0.90" fill="#111"/>
<circle cx="213.90" cy="398.34" r="0.90" fill="#111"/>
<circle cx="213.90" cy="402.38" r="0.90" fill="#111"/>
<circle cx="213.90" cy="405.07" r="0.90" fill="#111"/>
<circle cx="239.28" cy="304.12" r="0.90" fill="#111"/>
<circle cx="242.53" cy="304.12" r="0.90" fill="#111"/>
<circle cx="237.65" cy="310.85" r="0.90" fill="#111"/>
<circle cx="240.90" cy="310.85" r="0.90" fill="#111"/>
<circle cx="244.15" cy="310.85" r="0.90" fill="#111"/>
<circle cx="240.90" cy="317.58" r="0.90" fill="#111"/>
<circle cx="237.65" cy="324.31" r="0.90" fill="#111"/>
<circle cx="240.90" cy="324.31" r="0.90" fill="#111"/>
<circle cx="244.15" cy="324.31" r="0.90" fill="#111"/>
<circle cx="240.90" cy="331.04" r="0.90" fill="#111"/>
<circle cx="240.90" cy="337.77" r="0.90" fill="#111"/>
<circle cx="240.90" cy="351.23" r="0.90" fill="#111"/>
<circle cx="239.28" cy="357.96" r="0.90" fill="#111"/>
<circle cx="242.53" cy="357.96" r="0.90" fill="#111"/>
<circle cx="240.90" cy="364.69" r="0.90" fill="#111"/>
<circle cx="240.90" cy="367.38" r="0.90" fill="#111"/>
<circle cx="240.90" cy="371.42" r="0.90" fill="#111"/>
<circle cx="240.90" cy="378.15" r="0.90" fill="#111"/>
<circle cx="239.28" cy="384.88" r="0.90" fill="#111"/>
<circle cx="242.53" cy="384.88" r="0.90" fill="#111"/>
<circle cx="236.03" cy="391.61" r="0.90" fill="#111"/>
<circle cx="239.28" cy="391.61" r="0.90" fill="#111"/>
<circle cx="242.53" cy="391.61" r="0.90" fill="#111"/>
<circle cx="245.78" cy="391.61" r="0.90" fill="#111"/>
<line x1="186.90" y1="352.31" x2="186.90" y2="346.38" stroke="#333" stroke-width="1"/>
<line x1="182.40" y1="346.38" x2="191.40" y2="346.38" stroke="#222" stroke-width="1.2"/>
<line x1="213.90" y1="350.56" x2="213.90" y2="344.50" stroke="#333" stroke-width="1"/>
<line x1="209.40" y1="344.50" x2="218.40" y2="344.50" stroke="#222" stroke-width="1.2"/>
<line x1="240.90" y1="349.48" x2="240.90" y2="342.88" stroke="#333" stroke-width="1"/>
<line x1="236.40" y1="342.88" x2="245.40" y2="342.88" stroke="#222" stroke-width="1.2"/>
<line x1="168.90" y1="274.10" x2="168.90" y2="411.80" stroke="#111" stroke-width="1.5"/>
<line x1="165.90" y1="411.80" x2="258.90" y2="411.80" stroke="#111" stroke-width="1.15"/>
<line x1="165.90" y1="411.80" x2="168.90" y2="411.80" stroke="#111" stroke-width="1"/>
<text transform="translate(162.30 414.90) scale(1.000 1)" font-size="8.90" text-anchor="end">0</text>
<line x1="165.90" y1="384.88" x2="168.90" y2="384.88" stroke="#111" stroke-width="1"/>
<text transform="translate(162.30 387.98) scale(1.000 1)" font-size="8.90" text-anchor="end">20</text>
<line x1="165.90" y1="357.96" x2="168.90" y2="357.96" stroke="#111" stroke-width="1"/>
<text transform="translate(162.30 361.06) scale(1.000 1)" font-size="8.90" text-anchor="end">40</text>
<line x1="165.90" y1="331.04" x2="168.90" y2="331.04" stroke="#111" stroke-width="1"/>
<text transform="translate(162.30 334.14) scale(1.000 1)" font-size="8.90" text-anchor="end">60</text>
<line x1="165.90" y1="304.12" x2="168.90" y2="304.12" stroke="#111" stroke-width="1"/>
<text transform="translate(162.30 307.22) scale(1.000 1)" font-size="8.90" text-anchor="end">80</text>
<line x1="165.90" y1="277.20" x2="168.90" y2="277.20" stroke="#111" stroke-width="1"/>
<text transform="translate(162.30 280.30) scale(1.000 1)" font-size="8.90" text-anchor="end">100</text>
<line x1="186.90" y1="411.80" x2="186.90" y2="414.80" stroke="#111" stroke-width="1"/>
<line x1="213.90" y1="411.80" x2="213.90" y2="414.80" stroke="#111" stroke-width="1"/>
<line x1="240.90" y1="411.80" x2="240.90" y2="414.80" stroke="#111" stroke-width="1"/>
<text transform="translate(190.40 423.80) rotate(-45) scale(0.940 1)" font-size="8.40" text-anchor="end">Baseline</text>
<text transform="translate(217.40 423.80) rotate(-45) scale(0.940 1)" font-size="8.40" text-anchor="end">6-months</text>
<text transform="translate(244.40 423.80) rotate(-45) scale(0.940 1)" font-size="8.40" text-anchor="end">12-months</text>
<text x="340.70" y="248.1" font-size="10.7" letter-spacing="-0.55" word-spacing="1.5" text-anchor="middle">Pain</text>
<rect x="305.20" y="320.41" width="18" height="91.39" fill="#3cab47"/>
<rect x="332.20" y="324.18" width="18" height="87.62" fill="#2aa9e0"/>
<rect x="359.20" y="314.35" width="18" height="97.45" fill="#bdbdc3"/>
<circle cx="306.20" cy="277.20" r="0.90" fill="#111"/>
<circle cx="309.40" cy="277.20" r="0.90" fill="#111"/>
<circle cx="312.60" cy="277.20" r="0.90" fill="#111"/>
<circle cx="315.80" cy="277.20" r="0.90" fill="#111"/>
<circle cx="319.00" cy="277.20" r="0.90" fill="#111"/>
<circle cx="322.20" cy="277.20" r="0.90" fill="#111"/>
<circle cx="309.32" cy="290.66" r="0.90" fill="#111"/>
<circle cx="312.57" cy="290.66" r="0.90" fill="#111"/>
<circle cx="315.82" cy="290.66" r="0.90" fill="#111"/>
<circle cx="319.07" cy="290.66" r="0.90" fill="#111"/>
<circle cx="312.57" cy="304.12" r="0.90" fill="#111"/>
<circle cx="315.82" cy="304.12" r="0.90" fill="#111"/>
<circle cx="310.95" cy="307.49" r="0.90" fill="#111"/>
<circle cx="314.20" cy="307.49" r="0.90" fill="#111"/>
<circle cx="317.45" cy="307.49" r="0.90" fill="#111"/>
<circle cx="312.57" cy="314.21" r="0.90" fill="#111"/>
<circle cx="315.82" cy="314.21" r="0.90" fill="#111"/>
<circle cx="312.57" cy="320.94" r="0.90" fill="#111"/>
<circle cx="315.82" cy="320.94" r="0.90" fill="#111"/>
<circle cx="312.57" cy="334.40" r="0.90" fill="#111"/>
<circle cx="315.82" cy="334.40" r="0.90" fill="#111"/>
<circle cx="314.20" cy="337.77" r="0.90" fill="#111"/>
<circle cx="314.20" cy="347.87" r="0.90" fill="#111"/>
<circle cx="312.57" cy="351.23" r="0.90" fill="#111"/>
<circle cx="315.82" cy="351.23" r="0.90" fill="#111"/>
<circle cx="314.20" cy="368.06" r="0.90" fill="#111"/>
<circle cx="314.20" cy="378.15" r="0.90" fill="#111"/>
<circle cx="312.57" cy="381.51" r="0.90" fill="#111"/>
<circle cx="315.82" cy="381.51" r="0.90" fill="#111"/>
<circle cx="314.20" cy="398.34" r="0.90" fill="#111"/>
<circle cx="333.20" cy="277.20" r="0.90" fill="#111"/>
<circle cx="336.40" cy="277.20" r="0.90" fill="#111"/>
<circle cx="339.60" cy="277.20" r="0.90" fill="#111"/>
<circle cx="342.80" cy="277.20" r="0.90" fill="#111"/>
<circle cx="346.00" cy="277.20" r="0.90" fill="#111"/>
<circle cx="349.20" cy="277.20" r="0.90" fill="#111"/>
<circle cx="339.57" cy="290.66" r="0.90" fill="#111"/>
<circle cx="342.82" cy="290.66" r="0.90" fill="#111"/>
<circle cx="339.57" cy="304.12" r="0.90" fill="#111"/>
<circle cx="342.82" cy="304.12" r="0.90" fill="#111"/>
<circle cx="333.20" cy="320.94" r="0.90" fill="#111"/>
<circle cx="336.40" cy="320.94" r="0.90" fill="#111"/>
<circle cx="339.60" cy="320.94" r="0.90" fill="#111"/>
<circle cx="342.80" cy="320.94" r="0.90" fill="#111"/>
<circle cx="346.00" cy="320.94" r="0.90" fill="#111"/>
<circle cx="349.20" cy="320.94" r="0.90" fill="#111"/>
<circle cx="339.57" cy="334.40" r="0.90" fill="#111"/>
<circle cx="342.82" cy="334.40" r="0.90" fill="#111"/>
<circle cx="341.20" cy="337.77" r="0.90" fill="#111"/>
<circle cx="339.57" cy="351.23" r="0.90" fill="#111"/>
<circle cx="342.82" cy="351.23" r="0.90" fill="#111"/>
<circle cx="341.20" cy="354.60" r="0.90" fill="#111"/>
<circle cx="339.57" cy="364.69" r="0.90" fill="#111"/>
<circle cx="342.82" cy="364.69" r="0.90" fill="#111"/>
<circle cx="341.20" cy="381.51" r="0.90" fill="#111"/>
<circle cx="341.20" cy="394.98" r="0.90" fill="#111"/>
<circle cx="360.20" cy="277.20" r="0.90" fill="#111"/>
<circle cx="361.98" cy="277.20" r="0.90" fill="#111"/>
<circle cx="363.76" cy="277.20" r="0.90" fill="#111"/>
<circle cx="365.53" cy="277.20" r="0.90" fill="#111"/>
<circle cx="367.31" cy="277.20" r="0.90" fill="#111"/>
<circle cx="369.09" cy="277.20" r="0.90" fill="#111"/>
<circle cx="370.87" cy="277.20" r="0.90" fill="#111"/>
<circle cx="372.64" cy="277.20" r="0.90" fill="#111"/>
<circle cx="374.42" cy="277.20" r="0.90" fill="#111"/>
<circle cx="376.20" cy="277.20" r="0.90" fill="#111"/>
<circle cx="367.40" cy="290.66" r="0.90" fill="#111"/>
<circle cx="369.00" cy="290.66" r="0.90" fill="#111"/>
<circle cx="366.57" cy="304.12" r="0.90" fill="#111"/>
<circle cx="369.82" cy="304.12" r="0.90" fill="#111"/>
<circle cx="368.20" cy="307.49" r="0.90" fill="#111"/>
<circle cx="364.95" cy="320.94" r="0.90" fill="#111"/>
<circle cx="368.20" cy="320.94" r="0.90" fill="#111"/>
<circle cx="371.45" cy="320.94" r="0.90" fill="#111"/>
<circle cx="368.20" cy="334.40" r="0.90" fill="#111"/>
<circle cx="368.20" cy="337.77" r="0.90" fill="#111"/>
<circle cx="368.20" cy="364.69" r="0.90" fill="#111"/>
<circle cx="366.60" cy="381.51" r="0.90" fill="#111"/>
<circle cx="368.20" cy="381.51" r="0.90" fill="#111"/>
<circle cx="369.80" cy="381.51" r="0.90" fill="#111"/>
<circle cx="368.20" cy="398.34" r="0.90" fill="#111"/>
<line x1="314.20" y1="320.41" x2="314.20" y2="312.60" stroke="#333" stroke-width="1"/>
<line x1="309.70" y1="312.60" x2="318.70" y2="312.60" stroke="#222" stroke-width="1.2"/>
<line x1="341.20" y1="324.18" x2="341.20" y2="316.91" stroke="#333" stroke-width="1"/>
<line x1="336.70" y1="316.91" x2="345.70" y2="316.91" stroke="#222" stroke-width="1.2"/>
<line x1="368.20" y1="314.35" x2="368.20" y2="305.74" stroke="#333" stroke-width="1"/>
<line x1="363.70" y1="305.74" x2="372.70" y2="305.74" stroke="#222" stroke-width="1.2"/>
<line x1="296.20" y1="274.10" x2="296.20" y2="411.80" stroke="#111" stroke-width="1.5"/>
<line x1="293.20" y1="411.80" x2="386.20" y2="411.80" stroke="#111" stroke-width="1.15"/>
<line x1="293.20" y1="411.80" x2="296.20" y2="411.80" stroke="#111" stroke-width="1"/>
<text transform="translate(289.60 414.90) scale(1.000 1)" font-size="8.90" text-anchor="end">0</text>
<line x1="293.20" y1="384.88" x2="296.20" y2="384.88" stroke="#111" stroke-width="1"/>
<text transform="translate(289.60 387.98) scale(1.000 1)" font-size="8.90" text-anchor="end">20</text>
<line x1="293.20" y1="357.96" x2="296.20" y2="357.96" stroke="#111" stroke-width="1"/>
<text transform="translate(289.60 361.06) scale(1.000 1)" font-size="8.90" text-anchor="end">40</text>
<line x1="293.20" y1="331.04" x2="296.20" y2="331.04" stroke="#111" stroke-width="1"/>
<text transform="translate(289.60 334.14) scale(1.000 1)" font-size="8.90" text-anchor="end">60</text>
<line x1="293.20" y1="304.12" x2="296.20" y2="304.12" stroke="#111" stroke-width="1"/>
<text transform="translate(289.60 307.22) scale(1.000 1)" font-size="8.90" text-anchor="end">80</text>
<line x1="293.20" y1="277.20" x2="296.20" y2="277.20" stroke="#111" stroke-width="1"/>
<text transform="translate(289.60 280.30) scale(1.000 1)" font-size="8.90" text-anchor="end">100</text>
<line x1="314.20" y1="411.80" x2="314.20" y2="414.80" stroke="#111" stroke-width="1"/>
<line x1="341.20" y1="411.80" x2="341.20" y2="414.80" stroke="#111" stroke-width="1"/>
<line x1="368.20" y1="411.80" x2="368.20" y2="414.80" stroke="#111" stroke-width="1"/>
<text transform="translate(317.70 423.80) rotate(-45) scale(0.940 1)" font-size="8.40" text-anchor="end">Baseline</text>
<text transform="translate(344.70 423.80) rotate(-45) scale(0.940 1)" font-size="8.40" text-anchor="end">6-months</text>
<text transform="translate(371.70 423.80) rotate(-45) scale(0.940 1)" font-size="8.40" text-anchor="end">12-months</text>
<text x="466.60" y="248.1" font-size="10.7" letter-spacing="-0.55" word-spacing="1.5" text-anchor="middle">Social Functioning</text>
<rect x="432.00" y="322.16" width="18" height="89.64" fill="#3cab47"/>
<rect x="459.00" y="319.06" width="18" height="92.74" fill="#2aa9e0"/>
<rect x="486.00" y="315.96" width="18" height="95.84" fill="#bdbdc3"/>
<circle cx="432.77" cy="277.20" r="0.90" fill="#111"/>
<circle cx="435.12" cy="277.20" r="0.90" fill="#111"/>
<circle cx="437.48" cy="277.20" r="0.90" fill="#111"/>
<circle cx="439.82" cy="277.20" r="0.90" fill="#111"/>
<circle cx="442.18" cy="277.20" r="0.90" fill="#111"/>
<circle cx="444.52" cy="277.20" r="0.90" fill="#111"/>
<circle cx="446.88" cy="277.20" r="0.90" fill="#111"/>
<circle cx="449.23" cy="277.20" r="0.90" fill="#111"/>
<circle cx="438.70" cy="294.02" r="0.90" fill="#111"/>
<circle cx="441.00" cy="294.02" r="0.90" fill="#111"/>
<circle cx="443.30" cy="294.02" r="0.90" fill="#111"/>
<circle cx="437.55" cy="310.85" r="0.90" fill="#111"/>
<circle cx="439.85" cy="310.85" r="0.90" fill="#111"/>
<circle cx="442.15" cy="310.85" r="0.90" fill="#111"/>
<circle cx="444.45" cy="310.85" r="0.90" fill="#111"/>
<circle cx="438.70" cy="327.68" r="0.90" fill="#111"/>
<circle cx="441.00" cy="327.68" r="0.90" fill="#111"/>
<circle cx="443.30" cy="327.68" r="0.90" fill="#111"/>
<circle cx="436.40" cy="344.50" r="0.90" fill="#111"/>
<circle cx="438.70" cy="344.50" r="0.90" fill="#111"/>
<circle cx="441.00" cy="344.50" r="0.90" fill="#111"/>
<circle cx="443.30" cy="344.50" r="0.90" fill="#111"/>
<circle cx="445.60" cy="344.50" r="0.90" fill="#111"/>
<circle cx="438.70" cy="361.32" r="0.90" fill="#111"/>
<circle cx="441.00" cy="361.32" r="0.90" fill="#111"/>
<circle cx="443.30" cy="361.32" r="0.90" fill="#111"/>
<circle cx="438.70" cy="378.15" r="0.90" fill="#111"/>
<circle cx="441.00" cy="378.15" r="0.90" fill="#111"/>
<circle cx="443.30" cy="378.15" r="0.90" fill="#111"/>
<circle cx="441.00" cy="394.98" r="0.90" fill="#111"/>
<circle cx="462.25" cy="277.20" r="0.90" fill="#111"/>
<circle cx="464.55" cy="277.20" r="0.90" fill="#111"/>
<circle cx="466.85" cy="277.20" r="0.90" fill="#111"/>
<circle cx="469.15" cy="277.20" r="0.90" fill="#111"/>
<circle cx="471.45" cy="277.20" r="0.90" fill="#111"/>
<circle cx="473.75" cy="277.20" r="0.90" fill="#111"/>
<circle cx="461.10" cy="294.02" r="0.90" fill="#111"/>
<circle cx="463.40" cy="294.02" r="0.90" fill="#111"/>
<circle cx="465.70" cy="294.02" r="0.90" fill="#111"/>
<circle cx="468.00" cy="294.02" r="0.90" fill="#111"/>
<circle cx="470.30" cy="294.02" r="0.90" fill="#111"/>
<circle cx="472.60" cy="294.02" r="0.90" fill="#111"/>
<circle cx="474.90" cy="294.02" r="0.90" fill="#111"/>
<circle cx="463.40" cy="327.68" r="0.90" fill="#111"/>
<circle cx="465.70" cy="327.68" r="0.90" fill="#111"/>
<circle cx="468.00" cy="327.68" r="0.90" fill="#111"/>
<circle cx="470.30" cy="327.68" r="0.90" fill="#111"/>
<circle cx="472.60" cy="327.68" r="0.90" fill="#111"/>
<circle cx="460.00" cy="344.50" r="0.90" fill="#111"/>
<circle cx="461.78" cy="344.50" r="0.90" fill="#111"/>
<circle cx="463.56" cy="344.50" r="0.90" fill="#111"/>
<circle cx="465.33" cy="344.50" r="0.90" fill="#111"/>
<circle cx="467.11" cy="344.50" r="0.90" fill="#111"/>
<circle cx="468.89" cy="344.50" r="0.90" fill="#111"/>
<circle cx="470.67" cy="344.50" r="0.90" fill="#111"/>
<circle cx="472.44" cy="344.50" r="0.90" fill="#111"/>
<circle cx="474.22" cy="344.50" r="0.90" fill="#111"/>
<circle cx="476.00" cy="344.50" r="0.90" fill="#111"/>
<circle cx="468.00" cy="361.32" r="0.90" fill="#111"/>
<circle cx="466.85" cy="378.15" r="0.90" fill="#111"/>
<circle cx="469.15" cy="378.15" r="0.90" fill="#111"/>
<circle cx="487.00" cy="277.20" r="0.90" fill="#111"/>
<circle cx="489.29" cy="277.20" r="0.90" fill="#111"/>
<circle cx="491.57" cy="277.20" r="0.90" fill="#111"/>
<circle cx="493.86" cy="277.20" r="0.90" fill="#111"/>
<circle cx="496.14" cy="277.20" r="0.90" fill="#111"/>
<circle cx="498.43" cy="277.20" r="0.90" fill="#111"/>
<circle cx="500.71" cy="277.20" r="0.90" fill="#111"/>
<circle cx="503.00" cy="277.20" r="0.90" fill="#111"/>
<circle cx="492.70" cy="294.02" r="0.90" fill="#111"/>
<circle cx="495.00" cy="294.02" r="0.90" fill="#111"/>
<circle cx="497.30" cy="294.02" r="0.90" fill="#111"/>
<circle cx="490.40" cy="310.85" r="0.90" fill="#111"/>
<circle cx="492.70" cy="310.85" r="0.90" fill="#111"/>
<circle cx="495.00" cy="310.85" r="0.90" fill="#111"/>
<circle cx="497.30" cy="310.85" r="0.90" fill="#111"/>
<circle cx="499.60" cy="310.85" r="0.90" fill="#111"/>
<circle cx="491.55" cy="327.68" r="0.90" fill="#111"/>
<circle cx="493.85" cy="327.68" r="0.90" fill="#111"/>
<circle cx="496.15" cy="327.68" r="0.90" fill="#111"/>
<circle cx="498.45" cy="327.68" r="0.90" fill="#111"/>
<circle cx="490.40" cy="344.50" r="0.90" fill="#111"/>
<circle cx="492.70" cy="344.50" r="0.90" fill="#111"/>
<circle cx="495.00" cy="344.50" r="0.90" fill="#111"/>
<circle cx="497.30" cy="344.50" r="0.90" fill="#111"/>
<circle cx="499.60" cy="344.50" r="0.90" fill="#111"/>
<circle cx="495.00" cy="361.32" r="0.90" fill="#111"/>
<line x1="441.00" y1="322.16" x2="441.00" y2="284.74" stroke="#333" stroke-width="1"/>
<line x1="436.50" y1="284.74" x2="445.50" y2="284.74" stroke="#222" stroke-width="1.2"/>
<line x1="468.00" y1="319.06" x2="468.00" y2="286.22" stroke="#333" stroke-width="1"/>
<line x1="463.50" y1="286.22" x2="472.50" y2="286.22" stroke="#222" stroke-width="1.2"/>
<line x1="495.00" y1="315.96" x2="495.00" y2="282.18" stroke="#333" stroke-width="1"/>
<line x1="490.50" y1="282.18" x2="499.50" y2="282.18" stroke="#222" stroke-width="1.2"/>
<line x1="423.00" y1="274.10" x2="423.00" y2="411.80" stroke="#111" stroke-width="1.5"/>
<line x1="420.00" y1="411.80" x2="513.00" y2="411.80" stroke="#111" stroke-width="1.15"/>
<line x1="420.00" y1="411.80" x2="423.00" y2="411.80" stroke="#111" stroke-width="1"/>
<text transform="translate(416.40 414.90) scale(1.000 1)" font-size="8.90" text-anchor="end">0</text>
<line x1="420.00" y1="384.88" x2="423.00" y2="384.88" stroke="#111" stroke-width="1"/>
<text transform="translate(416.40 387.98) scale(1.000 1)" font-size="8.90" text-anchor="end">20</text>
<line x1="420.00" y1="357.96" x2="423.00" y2="357.96" stroke="#111" stroke-width="1"/>
<text transform="translate(416.40 361.06) scale(1.000 1)" font-size="8.90" text-anchor="end">40</text>
<line x1="420.00" y1="331.04" x2="423.00" y2="331.04" stroke="#111" stroke-width="1"/>
<text transform="translate(416.40 334.14) scale(1.000 1)" font-size="8.90" text-anchor="end">60</text>
<line x1="420.00" y1="304.12" x2="423.00" y2="304.12" stroke="#111" stroke-width="1"/>
<text transform="translate(416.40 307.22) scale(1.000 1)" font-size="8.90" text-anchor="end">80</text>
<line x1="420.00" y1="277.20" x2="423.00" y2="277.20" stroke="#111" stroke-width="1"/>
<text transform="translate(416.40 280.30) scale(1.000 1)" font-size="8.90" text-anchor="end">100</text>
<line x1="441.00" y1="411.80" x2="441.00" y2="414.80" stroke="#111" stroke-width="1"/>
<line x1="468.00" y1="411.80" x2="468.00" y2="414.80" stroke="#111" stroke-width="1"/>
<line x1="495.00" y1="411.80" x2="495.00" y2="414.80" stroke="#111" stroke-width="1"/>
<text transform="translate(444.50 423.80) rotate(-45) scale(0.940 1)" font-size="8.40" text-anchor="end">Baseline</text>
<text transform="translate(471.50 423.80) rotate(-45) scale(0.940 1)" font-size="8.40" text-anchor="end">6-months</text>
<text transform="translate(498.50 423.80) rotate(-45) scale(0.940 1)" font-size="8.40" text-anchor="end">12-months</text>
<g transform="translate(15.9 114.90) rotate(-90) scale(0.665 1)"><text x="0" y="0" font-size="10.4" text-anchor="middle" style="stroke-width:0.3px">Mean SF-36 score</text></g>
<g transform="translate(15.9 343.50) rotate(-90) scale(0.665 1)"><text x="0" y="0" font-size="10.4" text-anchor="middle" style="stroke-width:0.3px">Mean SF-36 score</text></g>
<path d="M184.20 43.90 V31.80 H238.50 V43.90" fill="none" stroke="#333" stroke-width="1"/>
<path d="M184.20 43.90 V37.90 H211.30 V43.90" fill="none" stroke="#333" stroke-width="1"/>
<path d="M438.30 43.60 V33.50 H492.60 V43.60" fill="none" stroke="#333" stroke-width="1"/>
<path d="M341.10 274.00 V263.40 H367.70 V274.00" fill="none" stroke="#333" stroke-width="1"/>
<text x="204.80" y="27.60" font-size="8.5" text-anchor="middle">*</text>
<text x="208.30" y="27.60" font-size="8.5" text-anchor="middle">*</text>
<text x="216.70" y="28.90" font-size="9.4" word-spacing="-1.5" text-anchor="middle">#</text>
<text x="210.70" y="28.40" font-size="9.4" word-spacing="-1.5" text-anchor="middle">,</text>
<text x="465.20" y="31.20" font-size="9.4" word-spacing="-1.5" text-anchor="middle">#</text>
<text x="354.20" y="260.60" font-size="9.4" word-spacing="-1.5" text-anchor="middle">#</text>
<rect x="0.5" y="0.5" width="519" height="458" fill="none" stroke="#5a5a5a" stroke-width="1"/>
</svg></body></html>
